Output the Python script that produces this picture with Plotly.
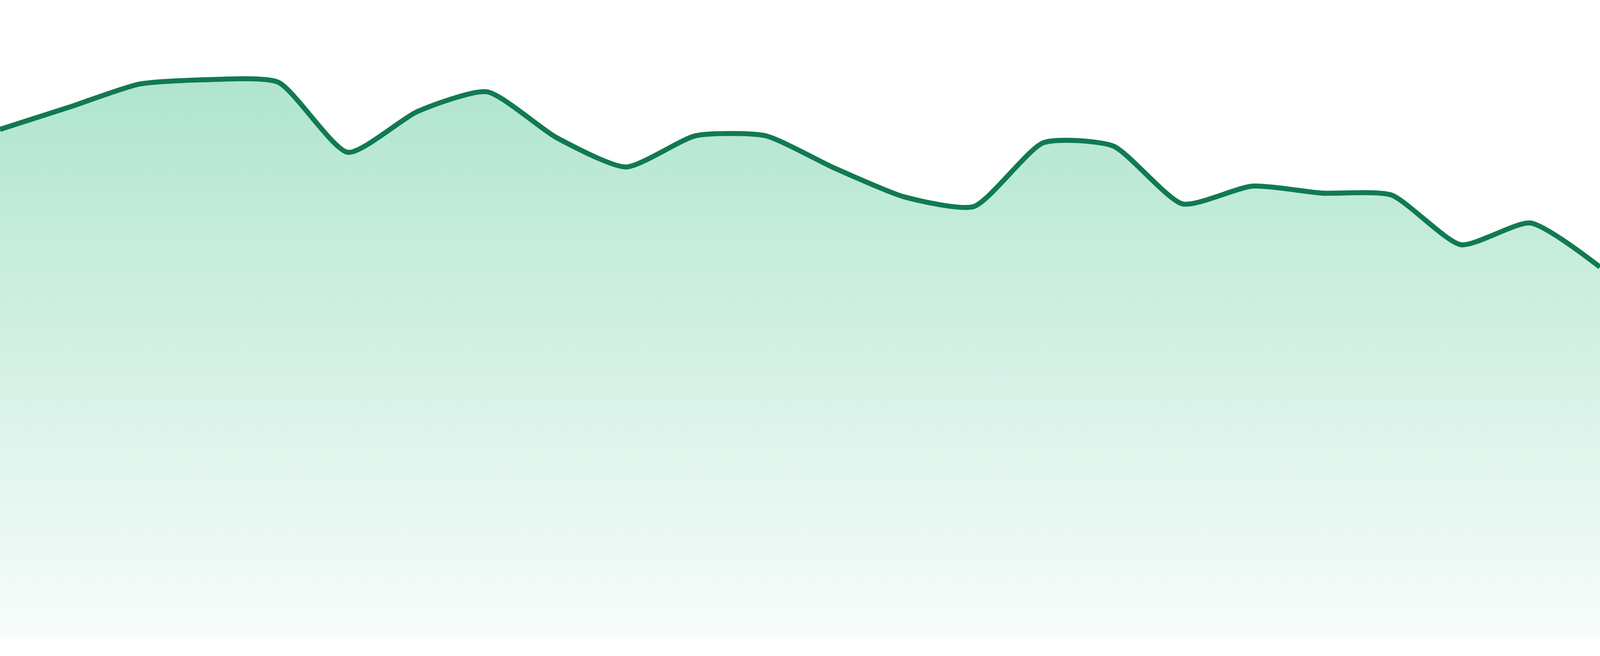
import plotly.graph_objects as go

# one value per point, evenly spaced across the width (no axes shown)
points = list(range(24))
values = [79.7, 83.2, 86.8, 87.5, 87.1, 76.1, 82.5, 85.6, 78.4, 73.8, 78.7, 78.7,
          73.6, 69.1, 67.6, 77.6, 77.1, 68.0, 70.8, 69.7, 69.4, 61.6, 65.0, 58.1]

line_color = "#117a52"

fig = go.Figure()
fig.add_trace(go.Scatter(
    x=points, y=values,
    mode="lines",
    line=dict(color=line_color, width=15, shape="spline", smoothing=0.6),
    fill="tozeroy",
    fillgradient=dict(
        type="vertical",
        start=0, stop=max(values),
        colorscale=[[0, "rgba(16,176,110,0.03)"], [1, "rgba(16,176,110,0.33)"]],
    ),
    hoverinfo="skip",
    showlegend=False,
))

fig.update_xaxes(visible=False, range=[0, 23])
# leave a thin white band under the area (48 of 1680 px)
fig.update_yaxes(visible=False, range=[0, 100], domain=[48 / 1680, 1])
fig.update_layout(
    margin=dict(l=0, r=0, t=0, b=0),
    paper_bgcolor="white", plot_bgcolor="white",
)

# fill the browser window exactly and keep the line width
# proportional to the 4800 px width the chart was drawn for
post = """
document.body.style.margin = '0px';
document.body.style.overflow = 'hidden';
var gd = document.getElementById('{plot_id}');
var w = window.innerWidth, h = window.innerHeight;
Plotly.relayout(gd, {width: w, height: h});
Plotly.restyle(gd, {'line.width': 15 * w / 4800});
"""

fig.write_html("out.html", default_width="100%", default_height="100vh",
               config={"displayModeBar": False}, post_script=post)
